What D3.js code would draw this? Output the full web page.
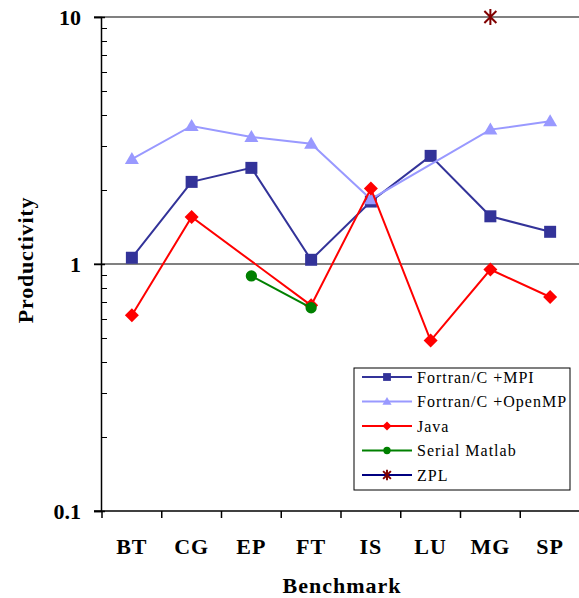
<!DOCTYPE html>
<html>
<head>
<meta charset="utf-8">
<script src="https://cdn.jsdelivr.net/npm/d3@7"></script>
<style>
  body { margin: 0; background: #fff; }
  svg text { font-family: "Liberation Serif", "Times New Roman", Times, serif; }
</style>
</head>
<body>
<svg id="chart" width="579" height="598"></svg>
<script>
// benchmarks along the x axis
var benchmarks = ["BT", "CG", "EP", "FT", "IS", "LU", "MG", "SP"];

// productivity per benchmark (null = not measured)
var mpiValues    = [1.06, 2.15, 2.45, 1.04, 1.79, 2.74, 1.56, 1.35];
var openmpValues = [2.66, 3.62, 3.27, 3.07, 1.83, null, 3.5, 3.78];
var javaValues   = [0.62, 1.55, null, 0.68, 2.02, 0.49, 0.95, 0.735];
var matlabValues = [null, null, 0.895, 0.665, null, null, null, null];
var zplValues    = [null, null, null, null, null, null, 10, null];

var yTickValues = [0.1, 1, 10];

var series = [
    { name: "Fortran/C +MPI", values: mpiValues, color: "#333399", marker: "square", mcolor: "#333399" },
    { name: "Fortran/C +OpenMP", values: openmpValues, color: "#9999ff", marker: "triangle", mcolor: "#9999ff" },
    { name: "Java", values: javaValues, color: "#ff0000", marker: "diamond", mcolor: "#ff0000" },
    { name: "Serial Matlab", values: matlabValues, color: "#008000", marker: "circle", mcolor: "#008000" },
    { name: "ZPL", values: zplValues, color: "#000080", marker: "star", mcolor: "#800000" }
];

var svg = d3.select("#chart");

var plot = { left: 101, right: 580, top: 17, bottom: 511 };

var x = d3.scaleBand()
    .domain(benchmarks)
    .range([plot.left + 1, plot.right]);

var y = d3.scaleLog()
    .domain([0.1, 10])
    .range([plot.bottom, plot.top]);

// gridlines at major values
svg.append("g")
    .selectAll("line")
    .data([1, 10])
    .enter()
    .append("line")
    .attr("x1", plot.left - 7)
    .attr("x2", 579)
    .attr("y1", function(d) { return y(d); })
    .attr("y2", function(d) { return y(d); })
    .attr("stroke", "#808080")
    .attr("stroke-width", 2);

// minor ticks inside the axis
var minorTicks = [];
[0.1, 1].forEach(function(base) {
    for (var k = 2; k <= 9; k++) minorTicks.push(base * k);
});
svg.append("g")
    .selectAll("line")
    .data(minorTicks)
    .enter()
    .append("line")
    .attr("x1", plot.left)
    .attr("x2", plot.left + 6)
    .attr("y1", function(d) { return Math.round(y(d)) + 0.5; })
    .attr("y2", function(d) { return Math.round(y(d)) + 0.5; })
    .attr("stroke", "#000")
    .attr("stroke-width", 1);

// y axis
var yAxis = svg.append("g")
    .attr("transform", "translate(" + plot.left + ",0)")
    .call(d3.axisLeft(y)
        .tickValues(yTickValues)
        .tickSize(7)
        .tickPadding(13)
        .tickFormat(function(d) { return d3.format("")(d); }));
yAxis.attr("font-family", null);
yAxis.select(".domain").attr("stroke-width", 1.5);
yAxis.selectAll(".tick line").attr("stroke-width", 1.5).attr("x2", -7);
yAxis.selectAll(".tick").append("line")
    .attr("x1", 0).attr("x2", 4).attr("stroke", "#000").attr("stroke-width", 1.5);
yAxis.selectAll("text")
    .style("font-size", "22px")
    .style("font-weight", "bold")
    .attr("dy", "0.35em");

// x axis: ticks at category boundaries
var xAxisG = svg.append("g");
xAxisG.append("line")
    .attr("x1", plot.left - 7)
    .attr("x2", 579)
    .attr("y1", plot.bottom)
    .attr("y2", plot.bottom)
    .attr("stroke", "#000")
    .attr("stroke-width", 1.5);
xAxisG.selectAll("line.tick")
    .data(benchmarks)
    .enter()
    .append("line")
    .attr("class", "tick")
    .attr("x1", function(d) { return x(d); })
    .attr("x2", function(d) { return x(d); })
    .attr("y1", plot.bottom)
    .attr("y2", plot.bottom + 7)
    .attr("stroke", "#000")
    .attr("stroke-width", 1.5);
xAxisG.selectAll("text")
    .data(benchmarks)
    .enter()
    .append("text")
    .attr("x", function(d) { return x(d) + x.bandwidth() / 2; })
    .attr("y", 554)
    .attr("text-anchor", "middle")
    .style("font-size", "22px")
    .style("font-weight", "bold")
    .style("letter-spacing", "1px")
    .text(function(d) { return d; });

// axis titles
svg.append("text")
    .attr("x", 342)
    .attr("y", 593)
    .attr("text-anchor", "middle")
    .style("font-size", "22px")
    .style("font-weight", "bold")
    .style("letter-spacing", "1px")
    .text("Benchmark");

svg.append("text")
    .attr("transform", "translate(33,260) rotate(-90)")
    .attr("text-anchor", "middle")
    .style("font-size", "22px")
    .style("font-weight", "bold")
    .style("letter-spacing", "0.8px")
    .text("Productivity");

// marker shapes
function markerPath(type) {
    if (type === "square") return "M-6,-6H6V6H-6Z";
    if (type === "triangle") return "M0,-7L7,5H-7Z";
    if (type === "diamond") return "M0,-7L7,0L0,7L-7,0Z";
    if (type === "circle") return d3.symbol().type(d3.symbolCircle).size(100)();
    return "M-6,-6L6,6M6,-6L-6,6M0,-8V8";
}

function px(i) { return x(benchmarks[i]) + x.bandwidth() / 2; }

var line = d3.line()
    .x(function(d) { return px(d.i); })
    .y(function(d) { return y(d.v); });

series.forEach(function(s) {
    var pts = s.values
        .map(function(v, i) { return { v: v, i: i }; })
        .filter(function(d) { return d.v != null; });

    var g = svg.append("g");
    g.append("path")
        .attr("d", line(pts))
        .attr("fill", "none")
        .attr("stroke", s.color)
        .attr("stroke-width", 2);

    g.selectAll("path.m")
        .data(pts)
        .enter()
        .append("path")
        .attr("class", "m")
        .attr("transform", function(d) { return "translate(" + px(d.i) + "," + y(d.v) + ")"; })
        .attr("d", markerPath(s.marker))
        .attr("fill", s.marker === "star" ? "none" : s.mcolor)
        .attr("stroke", s.mcolor)
        .attr("stroke-width", s.marker === "star" ? 2 : 0);
});

// legend
var legend = svg.append("g").attr("transform", "translate(354,368)");
legend.append("rect")
    .attr("width", 216)
    .attr("height", 122)
    .attr("fill", "#fff")
    .attr("stroke", "#000")
    .attr("stroke-width", 1);

var item = legend.selectAll("g.item")
    .data(series)
    .enter()
    .append("g")
    .attr("class", "item")
    .attr("transform", function(d, i) { return "translate(0," + (9 + i * 24.5) + ")"; });

item.append("line")
    .attr("x1", 8)
    .attr("x2", 58)
    .attr("stroke", function(d) { return d.color; })
    .attr("stroke-width", 2);

item.append("path")
    .attr("transform", "translate(33,0) scale(0.65)")
    .attr("d", function(d) { return markerPath(d.marker); })
    .attr("fill", function(d) { return d.marker === "star" ? "none" : d.mcolor; })
    .attr("stroke", function(d) { return d.mcolor; })
    .attr("stroke-width", function(d) { return d.marker === "star" ? 3 : 0; });

item.append("text")
    .attr("x", 63)
    .attr("dy", "0.35em")
    .style("font-size", "16px")
    .style("letter-spacing", "1px")
    .text(function(d) { return d.name; });
</script>
</body>
</html>
